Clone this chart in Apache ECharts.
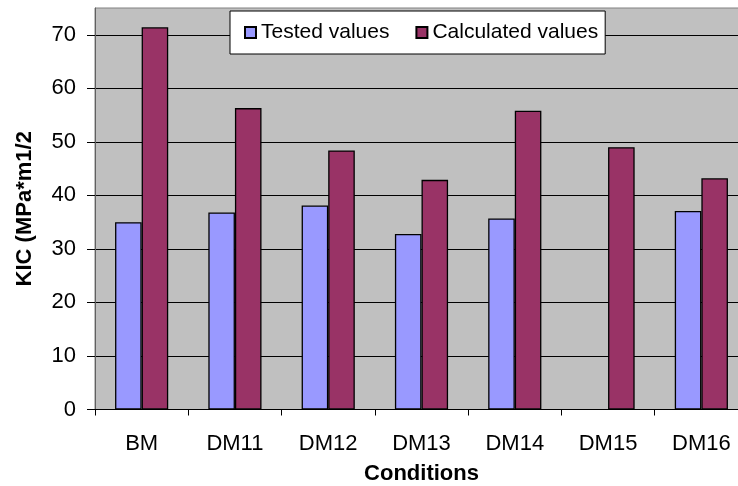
<!DOCTYPE html>
<html>
<head>
<meta charset="utf-8">
<script src="https://cdn.jsdelivr.net/npm/echarts@6/dist/echarts.min.js"></script>
<style>html,body{margin:0;padding:0;background:#fff}#c{width:738px;height:486px}</style>
</head>
<body>
<div id="c"></div>
<script>
const categories = ['BM', 'DM11', 'DM12', 'DM13', 'DM14', 'DM15', 'DM16'];
const testedValues = [35.0, 36.8, 38.1, 32.8, 35.7, null, 37.1];
const calculatedValues = [71.4, 56.3, 48.4, 42.9, 55.8, 49.0, 43.2];
const seriesNames = ['Tested values', 'Calculated values'];
const yAxisTitle = 'KIC (MPa*m1/2';
const xAxisTitle = 'Conditions';

const FONT = '"Liberation Sans", Arial, sans-serif';
const chart = echarts.init(document.getElementById('c'), null, {renderer: 'canvas'});
chart.setOption({
  animation: false,
  backgroundColor: '#ffffff',
  textStyle: {fontFamily: FONT},
  grid: {
    left: 95, top: 8, right: -10, bottom: 76.5,
    containLabel: false,
    outerBoundsMode: 'none',
    show: true, backgroundColor: '#c0c0c0', borderColor: '#808080', borderWidth: 1
  },
  legend: {
    left: 230, top: 11,
    padding: [11, 7, 11, 14],
    itemGap: 26, itemWidth: 11, itemHeight: 11,
    icon: 'rect',
    backgroundColor: '#ffffff', borderColor: '#000000', borderWidth: 1,
    textStyle: {fontSize: 21, color: '#000', fontFamily: FONT},
    data: seriesNames
  },
  xAxis: {
    type: 'category',
    data: categories,
    name: xAxisTitle,
    nameLocation: 'middle',
    nameGap: 53,
    nameTextStyle: {fontSize: 22, fontWeight: 'bold', color: '#000', fontFamily: FONT},
    axisLine: {lineStyle: {color: '#000', width: 1}},
    axisTick: {show: true, length: 6, lineStyle: {color: '#000'}},
    axisLabel: {fontSize: 22, color: '#000', margin: 23, fontFamily: FONT}
  },
  yAxis: {
    type: 'value',
    min: 0, max: 75, interval: 10,
    name: yAxisTitle,
    nameLocation: 'middle',
    nameGap: 59,
    nameTextStyle: {fontSize: 22, fontWeight: 'bold', color: '#000', fontFamily: FONT},
    axisLine: {show: true, lineStyle: {color: '#606060', width: 1}},
    axisTick: {show: true, length: 8, lineStyle: {color: '#000'}},
    axisLabel: {fontSize: 22, color: '#000', margin: 19, showMaxLabel: false, fontFamily: FONT},
    splitLine: {show: true, showMaxLine: false, lineStyle: {color: '#000', width: 1}}
  },
  series: [
    {
      name: seriesNames[0], type: 'bar', data: testedValues,
      barGap: '0%', barCategoryGap: '43%',
      itemStyle: {color: '#9999ff', borderColor: '#000', borderWidth: 1.3}
    },
    {
      name: seriesNames[1], type: 'bar', data: calculatedValues,
      barGap: '0%', barCategoryGap: '43%',
      itemStyle: {color: '#993366', borderColor: '#000', borderWidth: 1.3}
    }
  ]
});
</script>
</body>
</html>
